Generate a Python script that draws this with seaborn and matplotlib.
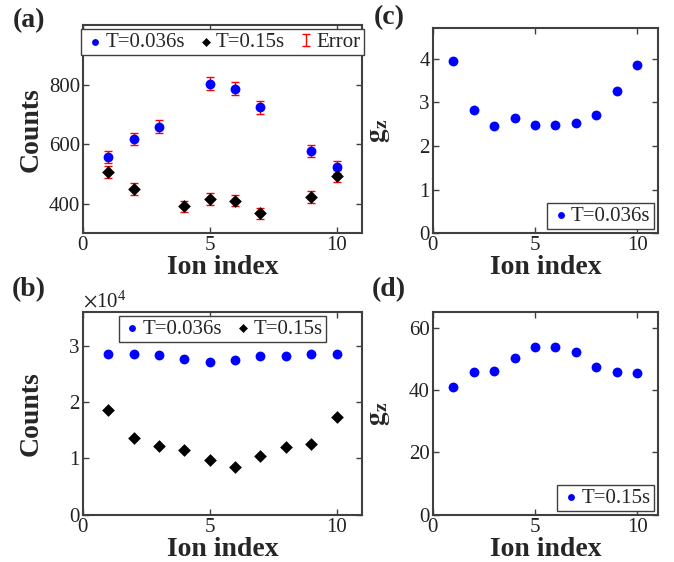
import matplotlib
matplotlib.use("Agg")
import matplotlib.pyplot as plt
from matplotlib.legend_handler import HandlerErrorbar
import seaborn as sns
import numpy as np
import pandas as pd

# ---- data ----
ion_a_blue = [1, 2, 3, 5, 6, 7, 9, 10]
counts_a_blue = [556, 618, 658, 804, 786, 724, 577, 522]
err_a_blue = [21, 21, 22, 22, 22, 22, 21, 20]
ion_a_black = [1, 2, 4, 5, 6, 7, 9, 10]
counts_a_black = [506, 449, 391, 416, 410, 367, 423, 493]
err_a_black = [20, 20, 19, 20, 20, 19, 20, 20]

ion_b = [1, 2, 3, 4, 5, 6, 7, 8, 9, 10]
counts_b_blue = [28500, 28500, 28400, 27600, 27100, 27400, 28100, 28200, 28500, 28500]
counts_b_black = [18600, 13700, 12200, 11500, 9700, 8400, 10400, 12100, 12500, 17400]

gz_c = [3.95, 2.82, 2.46, 2.64, 2.47, 2.47, 2.53, 2.70, 3.25, 3.85]
gz_d = [41.1, 45.8, 46.1, 50.3, 53.6, 53.9, 52.1, 47.2, 45.8, 45.3]

label_blue = "T=0.036s"
label_black = "T=0.15s"

# ---- style ----
sns.set_style("ticks")
plt.rcParams["font.family"] = ["Liberation Serif", "DejaVu Serif"]
plt.rcParams["mathtext.fontset"] = "stix"
plt.rcParams["axes.edgecolor"] = "#404040"
plt.rcParams["xtick.color"] = "#404040"
plt.rcParams["ytick.color"] = "#404040"
plt.rcParams["xtick.labelcolor"] = "#222222"
plt.rcParams["ytick.labelcolor"] = "#222222"

BLUE = "#0000ff"
TICK_FS = 15
LAB_FS = 20
LEG_FS = 15
S_CIRC = 50
S_DIA = 42

fig = plt.figure(figsize=(6.74, 5.62), dpi=100)
axA = fig.add_axes([0.123, 0.585, 0.414, 0.370])
axB = fig.add_axes([0.123, 0.084, 0.414, 0.361])
axC = fig.add_axes([0.642, 0.585, 0.334, 0.365])
axD = fig.add_axes([0.642, 0.084, 0.334, 0.361])


def style_axes(ax):
    ax.tick_params(direction="in", top=True, right=True, length=4, width=1,
                   labelsize=TICK_FS, pad=2)
    for s in ax.spines.values():
        s.set_linewidth(1.5)
        s.set_visible(True)
    ax.set_xlim(0, 11)
    ax.set_xticks([0, 5, 10])
    ax.set_xlabel("Ion index", fontsize=LAB_FS, fontweight="bold", labelpad=0)


def leg_kw():
    return dict(fontsize=LEG_FS, frameon=True, fancybox=False, edgecolor="#404040",
                framealpha=1, borderpad=0.15, handletextpad=0.0, handlelength=1.0,
                columnspacing=0.5, borderaxespad=0.2, markerscale=0.7)


# ---- panel (a) ----
dfa_b = pd.DataFrame({"ion": ion_a_blue, "counts": counts_a_blue})
dfa_k = pd.DataFrame({"ion": ion_a_black, "counts": counts_a_black})
eb1 = axA.errorbar(ion_a_blue, counts_a_blue, yerr=err_a_blue, fmt="none", ecolor="red",
                   elinewidth=1, capsize=3, capthick=1, zorder=2)
axA.errorbar(ion_a_black, counts_a_black, yerr=err_a_black, fmt="none", ecolor="red",
             elinewidth=1, capsize=3, capthick=1, zorder=2)
sns.scatterplot(data=dfa_b, x="ion", y="counts", ax=axA, color=BLUE, marker="o", s=S_CIRC,
                linewidth=0, zorder=3, label=label_blue)
sns.scatterplot(data=dfa_k, x="ion", y="counts", ax=axA, color="black", marker="D", s=S_DIA,
                linewidth=0, zorder=3, label=label_black)
style_axes(axA)
axA.set_ylim(300, 1000)
axA.set_yticks([400, 600, 800])
axA.set_ylabel("Counts", fontsize=LAB_FS, fontweight="bold")
axA.yaxis.set_label_coords(-0.14, 0.5)
h, l = axA.get_legend_handles_labels()
hh = [h[-2], h[-1], eb1]
axA.legend(hh, [label_blue, label_black, "Error"], loc="upper center", ncol=3,
           handler_map={type(eb1): HandlerErrorbar(xerr_size=0.3, yerr_size=0.3)},
           **leg_kw())

# ---- panel (b) ----
dfb = pd.DataFrame({"ion": ion_b, "blue": counts_b_blue, "black": counts_b_black})
sns.scatterplot(data=dfb, x="ion", y="blue", ax=axB, color=BLUE, marker="o", s=S_CIRC,
                linewidth=0, zorder=3, label=label_blue)
sns.scatterplot(data=dfb, x="ion", y="black", ax=axB, color="black", marker="D", s=S_DIA,
                linewidth=0, zorder=3, label=label_black)
style_axes(axB)
axB.set_ylim(0, 36000)
axB.set_yticks([0, 10000, 20000, 30000])
axB.ticklabel_format(axis="y", style="sci", scilimits=(4, 4), useMathText=True)
axB.yaxis.get_offset_text().set_fontsize(TICK_FS)
axB.set_ylabel("Counts", fontsize=LAB_FS, fontweight="bold")
axB.yaxis.set_label_coords(-0.14, 0.5)
axB.legend(loc="upper center", ncol=2, **leg_kw())

# ---- panel (c) ----
dfc = pd.DataFrame({"ion": ion_b, "gz": gz_c})
sns.scatterplot(data=dfc, x="ion", y="gz", ax=axC, color=BLUE, marker="o", s=S_CIRC,
                linewidth=0, zorder=3, label=label_blue)
style_axes(axC)
axC.set_ylim(0, 4.7)
axC.set_yticks([0, 1, 2, 3, 4])
axC.set_ylabel(r"$\mathbf{g}_\mathbf{z}$", fontsize=LAB_FS)
axC.yaxis.set_label_coords(-0.18, 0.5)
axC.legend(loc="lower right", **leg_kw())

# ---- panel (d) ----
dfd = pd.DataFrame({"ion": ion_b, "gz": gz_d})
sns.scatterplot(data=dfd, x="ion", y="gz", ax=axD, color=BLUE, marker="o", s=S_CIRC,
                linewidth=0, zorder=3, label=label_black)
style_axes(axD)
axD.set_ylim(0, 65)
axD.set_yticks([0, 20, 40, 60])
axD.set_ylabel(r"$\mathbf{g}_\mathbf{z}$", fontsize=LAB_FS)
axD.yaxis.set_label_coords(-0.18, 0.5)
axD.legend(loc="lower right", **leg_kw())

# ---- panel labels ----
for txt, x, y in [("(a)", 0.043, 0.964), ("(b)", 0.043, 0.484),
                  ("(c)", 0.577, 0.968), ("(d)", 0.577, 0.484)]:
    fig.text(x, y, txt, fontsize=LAB_FS, fontweight="bold", ha="center", va="center")

fig.savefig("out.png", dpi=100)
